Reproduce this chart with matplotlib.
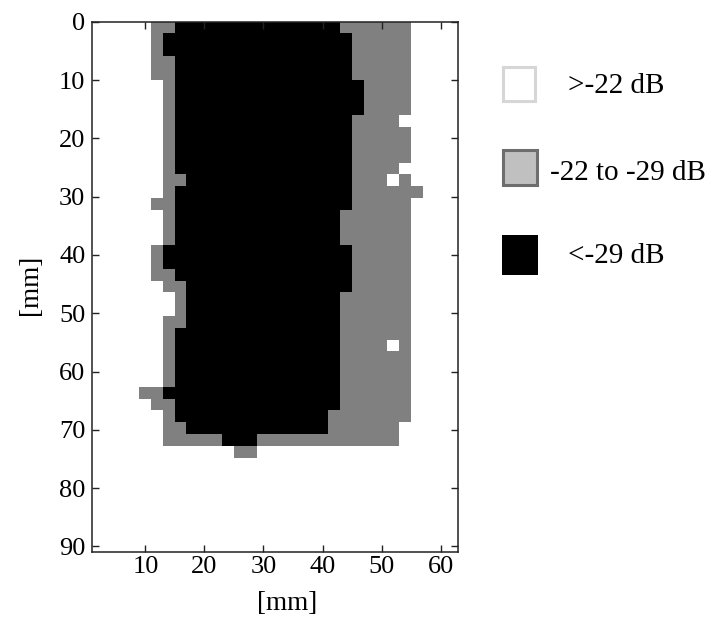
import numpy as np
import matplotlib
matplotlib.use("Agg")
import matplotlib.pyplot as plt
from matplotlib.colors import ListedColormap
from matplotlib.patches import Rectangle

plt.rcParams['font.family'] = ['Liberation Serif', 'DejaVu Serif']

# ---- data: per-row (2 mm rows from the top) boundaries of the regions, in mm ----
gray_start  = [11,11,11,11,11,13,13,13,13,13,13,13,13,13,13,11,13,13,13,11,11,11,13,15,15,13,13,13,13,13,13, 9,11,13,13,13,25]
black_start = [15,13,13,15,15,15,15,15,15,15,15,15,15,17,15,15,15,15,15,13,13,15,17,17,17,17,15,15,15,15,15,13,15,15,17,23,25]
black_end   = [43,45,45,45,45,47,47,47,45,45,45,45,45,45,45,45,43,43,43,45,45,45,45,43,43,43,43,43,43,43,43,43,43,41,41,29,25]
gray_end    = [55,55,55,55,55,55,55,55,53,55,55,55,53,55,57,55,55,55,55,55,55,55,55,55,55,55,55,55,55,55,55,55,55,55,53,53,29]
hole_rows = [13, 27]
hole_x    = [51, 51]

x_min, x_max = 1, 63
y_min, y_max = 0, 91
n_cols, n_rows = 31, 45

legend_labels = [">-22 dB", "-22 to -29 dB", "<-29 dB"]
xticks = [10, 20, 30, 40, 50, 60]
yticks = [0, 10, 20, 30, 40, 50, 60, 70, 80, 90]

# ---- build level grid (0 white, 1 gray, 2 black) ----
grid = np.zeros((n_rows, n_cols), dtype=int)
def col(xmm):
    return int(round((xmm - x_min) / 2))
for r in range(len(gray_start)):
    grid[r, col(gray_start[r]):col(gray_end[r])] = 1
    grid[r, col(black_start[r]):col(black_end[r])] = 2
for r, xh in zip(hole_rows, hole_x):
    grid[r, col(xh):col(xh) + 1] = 0

W, H = 724, 620
fig = plt.figure(figsize=(W / 100, H / 100), dpi=100)
ax = fig.add_axes([92.3 / W, 1 - 552.3 / H, 366.0 / W, 530.6 / H])

cmap = ListedColormap(['white', '#808080', 'black'])
ax.imshow(grid, cmap=cmap, vmin=0, vmax=2, extent=(x_min, x_max, y_max, y_min),
          interpolation='nearest', aspect='auto')
ax.set_xlim(x_min, x_max)
ax.set_ylim(y_max, y_min)
ax.set_xticks(xticks)
ax.set_yticks(yticks)
ax.tick_params(direction='in', top=True, right=True, length=5, width=1,
               labelsize=19, color='#222222')
ax.tick_params(axis='x', pad=3)
ax.tick_params(axis='y', pad=5)
for s in ax.spines.values():
    s.set_linewidth(1.1)
    s.set_color('#222222')

ax.set_xlabel('[mm]', fontsize=19.5)
ax.set_ylabel('[mm]', fontsize=19.5)
ax.xaxis.label.set_va('center')
ax.yaxis.label.set_va('center')
ax.xaxis.set_label_coords((287 - 92.3) / 366.0, (552.3 - 603) / 530.6)
ax.yaxis.set_label_coords((30 - 92.3) / 366.0, (552.3 - 285) / 530.6)

# ---- legend (drawn in pixel coordinates of an overlay axes) ----
lax = fig.add_axes([0, 0, 1, 1])
lax.set_xlim(0, W)
lax.set_ylim(H, 0)
lax.axis('off')
lax.add_patch(Rectangle((503.2, 66.5), 32.0, 34.7, facecolor='white',
                        edgecolor='#d6d6d6', linewidth=2.2))
lax.add_patch(Rectangle((503.2, 149.8), 33.6, 35.4, facecolor='#c0c0c0',
                        edgecolor='#6e6e6e', linewidth=2.2))
lax.add_patch(Rectangle((501.7, 235.0), 36.6, 40.0, facecolor='black',
                        edgecolor='none'))
lax.text(568, 93.3, legend_labels[0], fontsize=21, va='baseline', ha='left')
lax.text(550, 180.0, legend_labels[1], fontsize=21, va='baseline', ha='left')
lax.text(568, 263.3, legend_labels[2], fontsize=21, va='baseline', ha='left')

fig.savefig('out.png', dpi=100)
